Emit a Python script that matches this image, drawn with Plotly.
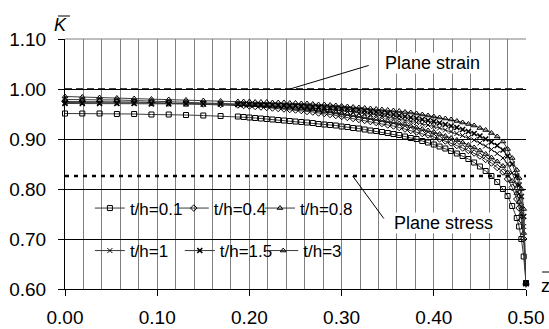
import plotly.graph_objects as go

Z = [0.0, 0.01875, 0.0375, 0.05625, 0.075, 0.09375, 0.1125, 0.13125, 0.15, 0.16875, 0.1875,
     0.19375, 0.2, 0.20625, 0.2125, 0.21875, 0.225, 0.23125, 0.2375, 0.24375, 0.25,
     0.25625, 0.2625, 0.26875, 0.275, 0.28125, 0.2875, 0.29375, 0.3, 0.30625, 0.3125,
     0.31875, 0.325, 0.33125, 0.3375, 0.34375, 0.35, 0.35625, 0.3625, 0.36875, 0.375,
     0.38125, 0.3875, 0.39375, 0.4, 0.40625, 0.4125, 0.41875, 0.425, 0.43125, 0.4375,
     0.44375, 0.45, 0.45625, 0.4625, 0.46875, 0.475,
     0.48, 0.485, 0.49, 0.4925, 0.495, 0.4975, 0.5]

K_01 = [0.951, 0.951, 0.951, 0.950, 0.950, 0.949, 0.949, 0.948, 0.947, 0.946, 0.945,
        0.944, 0.943, 0.942, 0.941, 0.940, 0.939, 0.938, 0.937, 0.936, 0.935,
        0.934, 0.933, 0.932, 0.930, 0.929, 0.928, 0.927, 0.925, 0.924, 0.922,
        0.921, 0.919, 0.917, 0.916, 0.914, 0.912, 0.910, 0.908, 0.905, 0.902,
        0.900, 0.896, 0.893, 0.889, 0.885, 0.881, 0.876, 0.871, 0.866, 0.860,
        0.853, 0.845, 0.836, 0.826, 0.814, 0.800,
        0.786, 0.766, 0.742, 0.725, 0.700, 0.665, 0.612]

K_04 = [0.975, 0.975, 0.975, 0.974, 0.974, 0.973, 0.972, 0.971, 0.970, 0.969, 0.968,
        0.967, 0.966, 0.965, 0.964, 0.963, 0.962, 0.961, 0.960, 0.959, 0.958,
        0.957, 0.955, 0.954, 0.952, 0.951, 0.949, 0.947, 0.945, 0.943, 0.941,
        0.939, 0.937, 0.935, 0.933, 0.931, 0.928, 0.926, 0.923, 0.920, 0.917,
        0.914, 0.911, 0.908, 0.904, 0.900, 0.896, 0.892, 0.887, 0.882, 0.877,
        0.872, 0.866, 0.859, 0.852, 0.843, 0.834,
        0.820, 0.803, 0.780, 0.762, 0.738, 0.700, 0.610]

K_08 = [0.979, 0.979, 0.978, 0.978, 0.977, 0.976, 0.975, 0.974, 0.973, 0.972, 0.971,
        0.970, 0.969, 0.968, 0.968, 0.967, 0.966, 0.965, 0.964, 0.963, 0.962,
        0.961, 0.960, 0.959, 0.957, 0.956, 0.955, 0.953, 0.951, 0.950, 0.948,
        0.946, 0.944, 0.942, 0.940, 0.938, 0.936, 0.934, 0.931, 0.929, 0.926,
        0.923, 0.920, 0.917, 0.914, 0.910, 0.906, 0.902, 0.898, 0.893, 0.888,
        0.883, 0.877, 0.870, 0.863, 0.855, 0.846,
        0.833, 0.816, 0.792, 0.774, 0.750, 0.712, 0.610]

K_1 = [0.973, 0.973, 0.973, 0.972, 0.972, 0.972, 0.971, 0.971, 0.970, 0.970, 0.969,
       0.969, 0.968, 0.968, 0.967, 0.967, 0.967, 0.966, 0.966, 0.965, 0.965,
       0.964, 0.963, 0.962, 0.961, 0.960, 0.959, 0.958, 0.956, 0.955, 0.954,
       0.952, 0.951, 0.949, 0.948, 0.946, 0.944, 0.942, 0.940, 0.937, 0.935,
       0.933, 0.930, 0.928, 0.925, 0.922, 0.918, 0.915, 0.911, 0.907, 0.903,
       0.898, 0.892, 0.886, 0.879, 0.871, 0.862,
       0.850, 0.832, 0.808, 0.790, 0.765, 0.725, 0.610]

K_15 = [0.971, 0.971, 0.971, 0.971, 0.971, 0.970, 0.970, 0.970, 0.970, 0.970, 0.969,
        0.969, 0.969, 0.969, 0.968, 0.968, 0.968, 0.968, 0.967, 0.967, 0.967,
        0.966, 0.965, 0.965, 0.964, 0.963, 0.963, 0.962, 0.961, 0.960, 0.959,
        0.958, 0.957, 0.955, 0.954, 0.952, 0.951, 0.949, 0.947, 0.945, 0.943,
        0.941, 0.939, 0.937, 0.935, 0.932, 0.929, 0.926, 0.923, 0.919, 0.915,
        0.911, 0.906, 0.900, 0.894, 0.887, 0.878,
        0.866, 0.850, 0.826, 0.808, 0.785, 0.745, 0.612]

K_3 = [0.985, 0.984, 0.983, 0.982, 0.981, 0.980, 0.979, 0.978, 0.977, 0.976, 0.975,
       0.975, 0.975, 0.974, 0.974, 0.974, 0.973, 0.973, 0.973, 0.972, 0.972,
       0.971, 0.971, 0.970, 0.969, 0.969, 0.968, 0.967, 0.966, 0.965, 0.964,
       0.963, 0.962, 0.961, 0.960, 0.959, 0.958, 0.957, 0.956, 0.954, 0.953,
       0.951, 0.949, 0.947, 0.945, 0.943, 0.941, 0.939, 0.936, 0.933, 0.930,
       0.927, 0.922, 0.918, 0.912, 0.905, 0.895,
       0.880, 0.862, 0.838, 0.822, 0.800, 0.760, 0.612]

SERIES_NAMES = ["t/h=0.1", "t/h=0.4", "t/h=0.8", "t/h=1", "t/h=1.5", "t/h=3"]
SERIES_VALUES = [K_01, K_04, K_08, K_1, K_15, K_3]
SYMBOLS = ["square-open", "diamond-open", "triangle-up-open", "x-thin-open", "x-thin-open", "triangle-up-open"]
LEGEND_IDS = ["legend", "legend2", "legend3", "legend4", "legend5", "legend6"]
# legend slot positions (paper fractions): x of each entry, y of its row
LEGEND_X = [0.054, 0.236, 0.423, 0.054, 0.249, 0.430]
LEGEND_Y = [0.322, 0.322, 0.322, 0.152, 0.152, 0.152]

LIMIT_X = [0.0, 0.5]
PLANE_STRAIN = [1.0, 1.0]
PLANE_STRESS = [0.826, 0.826]

X_TICKS = [0.0, 0.1, 0.2, 0.3, 0.4, 0.5]
Y_TICKS = [0.6, 0.7, 0.8, 0.9, 1.0, 1.1]

FONT = "Liberation Sans, Arial, sans-serif"

fig = go.Figure()

fig.add_trace(go.Scatter(x=LIMIT_X, y=PLANE_STRAIN, mode="lines", showlegend=False,
                         line=dict(color="black", width=1.5, dash="7px,4px"), hoverinfo="skip"))
fig.add_trace(go.Scatter(x=LIMIT_X, y=PLANE_STRESS, mode="lines", showlegend=False,
                         line=dict(color="black", width=2.5, dash="4px,5px"), hoverinfo="skip"))

for name, vals, sym, lg in zip(SERIES_NAMES, SERIES_VALUES, SYMBOLS, LEGEND_IDS):
    mw = 1.6 if name == "t/h=1.5" else 1
    fig.add_trace(go.Scatter(
        x=Z, y=vals, name=name, mode="lines+markers", legend=lg,
        line=dict(color="#3a3a3a", width=1),
        marker=dict(symbol=sym, size=5, color="black", line=dict(color="black", width=mw)),
        cliponaxis=False,
    ))

legend_layout = {}
for lg, lx, ly in zip(LEGEND_IDS, LEGEND_X, LEGEND_Y):
    legend_layout[lg] = dict(orientation="h", x=lx, xanchor="left", y=ly, yanchor="middle",
                             bgcolor="rgba(0,0,0,0)", font=dict(size=17), itemwidth=30,
                             borderwidth=0)

fig.update_layout(
    width=549, height=329,
    margin=dict(l=65, r=23, t=39, b=40),
    paper_bgcolor="white", plot_bgcolor="white",
    font=dict(family=FONT, size=19, color="black"),
    xaxis=dict(range=[0, 0.5], tickvals=X_TICKS, tickformat=".2f", automargin=False,
               showline=True, linecolor="black", linewidth=1,
               ticks="outside", ticklen=6, tickcolor="black",
               showgrid=True, gridcolor="#7f7f7f", gridwidth=1,
               minor=dict(dtick=0.02, tick0=0, showgrid=True, gridcolor="#7f7f7f", gridwidth=1, ticks=""),
               zeroline=False, ticklabelstandoff=5,
               tickfont=dict(size=19)),
    yaxis=dict(range=[0.6, 1.1], tickvals=Y_TICKS, tickformat=".2f", automargin=False,
               showline=True, linecolor="black", linewidth=1,
               ticks="outside", ticklen=6, tickcolor="black",
               showgrid=True, gridcolor="black", gridwidth=1,
               zeroline=False, ticklabelstandoff=8,
               tickfont=dict(size=19)),
    showlegend=True,
    **legend_layout,
)

# white legend panel covering the grid
fig.add_shape(type="rect", xref="paper", yref="paper", x0=0.074, x1=0.657, y0=0.064, y1=0.432,
              fillcolor="white", line=dict(width=0), layer="between")
# grey plot-area top edge
fig.add_shape(type="line", xref="paper", yref="paper", x0=0, x1=1, y0=1, y1=1,
              line=dict(color="#7f7f7f", width=1), layer="above")

# K bar and z bar
fig.add_annotation(text="<i>K</i>", xref="paper", yref="paper", x=-0.009, y=1.056,
                   showarrow=False, font=dict(size=18), xanchor="center", yanchor="middle")
fig.add_shape(type="line", xref="paper", yref="paper", x0=-0.0152, x1=0.0108, y0=1.092, y1=1.092,
              line=dict(color="black", width=1))
fig.add_annotation(text="z", xref="paper", yref="paper", x=1.043, y=0.012,
                   showarrow=False, font=dict(size=18), xanchor="center", yanchor="middle")
fig.add_shape(type="line", xref="paper", yref="paper", x0=1.035, x1=1.05, y0=0.068, y1=0.068,
              line=dict(color="black", width=1))

# labels
fig.add_annotation(text="Plane strain", xref="paper", yref="paper", x=0.798, y=0.904,
                   xanchor="center", yanchor="middle",
                   showarrow=False, font=dict(size=18), bgcolor="white", borderpad=0)
fig.add_annotation(text="Plane stress", xref="paper", yref="paper", x=0.82, y=0.264,
                   xanchor="center", yanchor="middle",
                   showarrow=False, font=dict(size=18), bgcolor="white", borderpad=0)
# leader lines
fig.add_annotation(text="", x=0.244, y=1.0, ax=0.331, ay=1.048, axref="x", ayref="y",
                   showarrow=True, arrowhead=0, arrowwidth=1, arrowcolor="black", standoff=0)
fig.add_annotation(text="", x=0.312, y=0.826, ax=0.347, ay=0.738, axref="x", ayref="y",
                   showarrow=True, arrowhead=0, arrowwidth=1, arrowcolor="black", standoff=0)

fig.write_html("out.html", post_script="document.body.style.margin='0px';",
               config={"displayModeBar": False})
